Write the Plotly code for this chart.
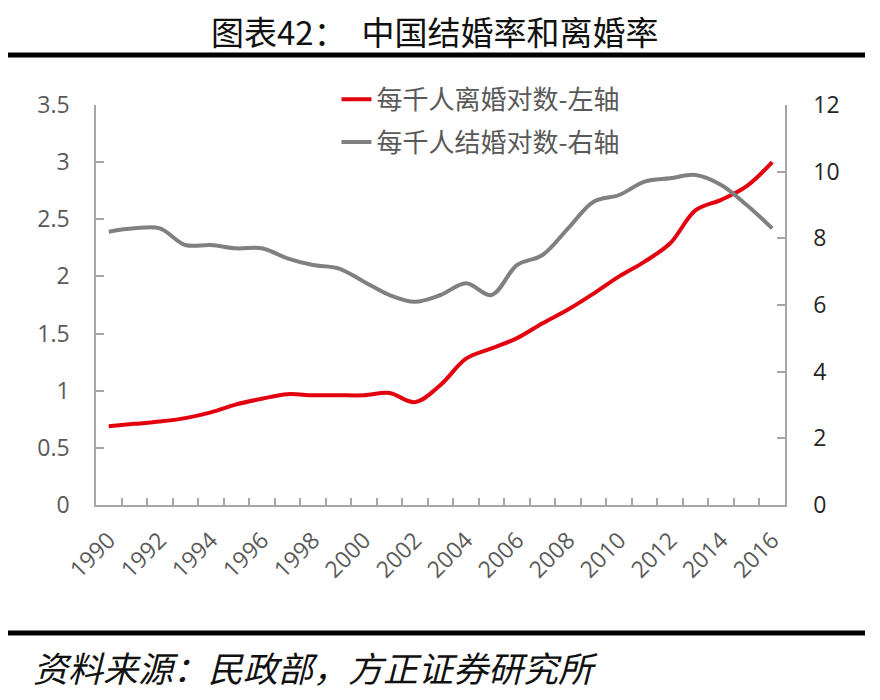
import plotly.graph_objects as go

years = list(range(1990, 2017))
divorce = [0.69, 0.71, 0.73, 0.76, 0.81, 0.88, 0.93, 0.97, 0.96, 0.96, 0.96, 0.98, 0.90,
           1.05, 1.28, 1.37, 1.46, 1.59, 1.71, 1.85, 2.00, 2.13, 2.29, 2.58, 2.67, 2.79, 3.00]
marriage = [8.2, 8.3, 8.3, 7.8, 7.8, 7.7, 7.7, 7.4, 7.2, 7.1, 6.7, 6.3, 6.1,
            6.3, 6.65, 6.3, 7.2, 7.5, 8.3, 9.1, 9.3, 9.7, 9.8, 9.9, 9.6, 9.0, 8.3]
x_ticks = list(range(1990, 2017, 2))
x_ticktext = [str(y) for y in x_ticks]
left_ticks = [0, 0.5, 1, 1.5, 2, 2.5, 3, 3.5]
left_ticktext = ["0", "0.5", "1", "1.5", "2", "2.5", "3", "3.5"]
right_ticks = [0, 2, 4, 6, 8, 10, 12]
right_ticktext = [str(v) for v in right_ticks]
names = ["每千人离婚对数-左轴", "每千人结婚对数-右轴"]
title_text = "图表42：  中国结婚率和离婚率"
source_text = "资料来源：民政部，方正证券研究所"

AX = "#a6a6a6"
LBL = "#595959"
CJK = "Noto Sans CJK SC"

fig = go.Figure()
fig.add_trace(go.Scatter(x=years, y=divorce, name=names[0], mode="lines",
                         line=dict(color="#e3000f", width=4, shape="spline", smoothing=1),
                         yaxis="y", legendgroup="a"))
fig.add_trace(go.Scatter(x=years, y=marriage, name=names[1], mode="lines",
                         line=dict(color="#808080", width=4, shape="spline", smoothing=1),
                         yaxis="y2", legendgroup="b"))

fig.update_layout(
    width=880, height=700,
    margin=dict(l=88, r=103, t=97, b=203, autoexpand=False),
    paper_bgcolor="white", plot_bgcolor="white",
    showlegend=True,
    legend=dict(x=0.349, y=1.073, xanchor="left", yanchor="top",
                font=dict(family=CJK, size=26, color=LBL),
                bgcolor="rgba(0,0,0,0)", tracegroupgap=6),
    xaxis=dict(type="linear", range=[1989.5, 2016.5], showgrid=False, zeroline=False,
               showline=True, linecolor=AX, linewidth=1.5, automargin=False,
               tickmode="array", tickvals=x_ticks, ticktext=x_ticktext,
               ticks="inside", ticklen=0, tickangle=-45,
               ticklabelstandoff=11,
               tickfont=dict(family="Open Sans", size=23, color=LBL),
               minor=dict(tickmode="linear", tick0=1989.5, dtick=1, ticks="inside",
                          ticklen=7, tickcolor=AX, tickwidth=1.5, showgrid=False)),
    yaxis=dict(range=[0, 3.5], showgrid=False, zeroline=False, automargin=False,
               showline=True, linecolor=AX, linewidth=1.5,
               tickmode="array", tickvals=left_ticks, ticktext=left_ticktext,
               ticks="inside", ticklen=8, tickcolor=AX, tickwidth=1.5,
               ticklabelstandoff=20,
               tickfont=dict(family="Open Sans", size=23, color=LBL)),
    yaxis2=dict(range=[0, 12], overlaying="y", side="right", showgrid=False, zeroline=False,
                showline=True, linecolor=AX, linewidth=1.5, automargin=False,
                tickmode="array", tickvals=right_ticks, ticktext=right_ticktext,
                ticks="inside", ticklen=8, tickcolor=AX, tickwidth=1.5,
                ticklabelstandoff=22,
                tickfont=dict(family="Open Sans", size=23, color="#262626")),
)

# title as annotation (paper coords relative to plot area)
fig.add_annotation(text=title_text, xref="paper", yref="paper",
                   x=(434 - 96) / 689, y=(505 - 31) / 400, xanchor="center", yanchor="middle",
                   showarrow=False,
                   font=dict(family=CJK, size=33, color="#111111"))

# decorative rules above plot and above source
for ypx in (55, 633):
    yp = (505 - ypx) / 400
    fig.add_shape(type="line", xref="paper", yref="paper",
                  x0=(8 - 96) / 689, x1=(865 - 96) / 689, y0=yp, y1=yp,
                  line=dict(color="black", width=5))

fig.add_annotation(text=source_text, xref="paper", yref="paper",
                   x=(31 - 96) / 689, y=(505 - 666) / 400, xanchor="left", yanchor="middle",
                   showarrow=False,
                   font=dict(family=CJK, size=35, color="#111111", style="italic"))

fig.write_html("out.html")
